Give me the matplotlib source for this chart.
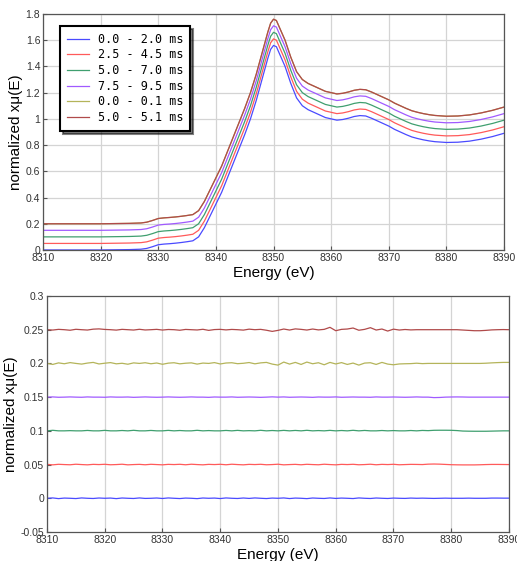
import matplotlib
matplotlib.use("Agg")
import matplotlib.pyplot as plt
from matplotlib.ticker import FuncFormatter, MultipleLocator
import numpy as np

# normalized XANES spectrum (first curve, 0.0 - 2.0 ms)
energy_top = [8310, 8315, 8320, 8325, 8327, 8328, 8329, 8330, 8331, 8332, 8333, 8334, 8335,
              8336, 8337, 8338, 8339, 8340, 8341, 8342, 8343, 8344, 8345, 8346, 8347, 8348,
              8349, 8349.5, 8350, 8350.5, 8351, 8352, 8353, 8354, 8355, 8356, 8357, 8358,
              8359, 8360, 8361, 8362, 8363, 8364, 8365, 8366, 8367, 8368, 8369, 8370, 8371,
              8372, 8373, 8374, 8375, 8376, 8377, 8378, 8380, 8382, 8384, 8386, 8388, 8390]
mu_base = [0.0, 0.0, 0.0, 0.003, 0.006, 0.012, 0.025, 0.04, 0.045, 0.048, 0.052, 0.057, 0.063,
           0.07, 0.1, 0.17, 0.26, 0.35, 0.44, 0.55, 0.66, 0.77, 0.88, 1.0, 1.14, 1.3,
           1.46, 1.53, 1.56, 1.55, 1.5, 1.4, 1.27, 1.16, 1.1, 1.07, 1.05, 1.03,
           1.01, 1.0, 0.99, 0.995, 1.005, 1.018, 1.025, 1.022, 1.005, 0.985, 0.965, 0.945, 0.92,
           0.9, 0.88, 0.862, 0.85, 0.84, 0.832, 0.826, 0.82, 0.822, 0.83, 0.845, 0.865, 0.89]

labels = ["0.0 - 2.0 ms", "2.5 - 4.5 ms", "5.0 - 7.0 ms", "7.5 - 9.5 ms", "0.0 - 0.1 ms", "5.0 - 5.1 ms"]
colors = ["#4a4aff", "#ff5a5a", "#3f9f6f", "#a05aff", "#b4b45a", "#b04a4a"]
offsets_top = [0.0, 0.05, 0.10, 0.15, 0.20, 0.20]
offsets_bottom = [0.0, 0.05, 0.10, 0.15, 0.20, 0.25]

# residuals (x 1e-3), one value per eV from 8310 to 8390
energy_bottom = list(range(8310, 8391))
res_blue = [0, 0.5, -0.5, 0.3, 0, -0.4, 0.5, 0, -0.3, 0.4,
            0, 0.3, -0.5, 0.4, 0, -0.3, 0.5, -0.2, 0, 0.4,
            -0.3, 0.5, 0, -0.4, 0.3, 0, -0.5, 0.4, 0, 0.3,
            -0.4, 0.5, 0, -0.3, 0.4, -0.2, 0.5, 0, -0.4, 0.3,
            0, 0.5, -0.4, 0.3, 0, -0.5, 0.4, 0, -0.3, 0.5,
            -0.2, 0.3, 0, -0.4, 0.5, 0, -0.3, 0.4, 0, -0.3,
            0.3, 0, -0.2, 0.3, 0, 0.2, 0, -0.2, 0, 0.2,
            0, 0, 0, 0.2, 0, 0, 0, 0.3, 0.3, 0.2, 0.2]
res_red = [0.3, -0.4, 0.4, 0, -0.3, 0.5, 0, -0.4, 0.3, 0,
           0.4, -0.3, 0, 0.5, -0.4, 0, 0.3, -0.3, 0.4, 0,
           -0.4, 0.3, 0, 0.4, -0.3, 0.5, 0, -0.4, 0.3, 0,
           0.4, -0.3, 0.5, 0, -0.4, 0.3, 0, 0.4, -0.3, 0,
           0.5, -0.4, 0, 0.3, -0.3, 0.4, 0, -0.3, 0.5, 0,
           -0.4, 0.3, 0, 0.4, -0.3, 0, 0.5, -0.3, 0.3, 0,
           0.4, -0.3, 0, 0.3, 0.2, 0, 0.6, 0.8, 0.6, 0.2,
           -0.2, -0.4, -0.5, -0.5, -0.5, -0.3, 0, 0.2, 0.2, 0.1, 0]
res_green = [0, 0.8, 0, 0, 0.3, 0, 0, 0.6, 0, 0,
             0.7, 0, 0, 0.5, 0, 0.8, 0, 0, 0.6, 0,
             0, 0.7, 0, 0.5, 0, 0, 0.8, 0, 0.4, 0,
             0, 0.6, 0, 0.7, 0, 0.3, 0, 0.8, 0, 0.5,
             0, 0.7, 0, 0.6, 0, 0.8, 0, 0.4, 0, 0.7,
             0, 0.5, 0, 0.8, 0, 0.6, 0, 0, 0.5, 0,
             0.4, 0, 0, 0.5, 0, 0.6, 0.3, 0.8, 0.9, 0.9,
             0.8, 0.4, -0.3, -0.5, -0.6, -0.6, -0.6, -0.4, -0.2, 0, 0]
res_purple = [0, 0.3, -0.2, 0, 0.3, 0, -0.2, 0.3, 0, 0,
              -0.2, 0.3, 0, 0, 0.2, -0.3, 0, 0.3, 0, -0.2,
              0, 0.3, 0, -0.2, 0, 0.3, 0, 0, -0.3, 0.2,
              0, 0, 0.3, -0.2, 0, 0.2, 0, -0.3, 0, 0.4,
              0, 0.3, -0.2, 0, 0.2, 0, -0.3, 0.2, 0, 0,
              0.3, -0.2, 0, 0.2, 0, 0, -0.2, 0.3, 0, 0,
              0.2, 0, -0.2, 0, 0.3, 0, 0, -0.7, -0.5, 0,
              0.2, 0.3, 0.2, 0, 0, 0, 0, 0, 0, 0, 0]
res_olive = [0, -1.5, 0.8, -0.5, 1.2, 0, -1.0, 0.5, 1.5, -0.8,
             0.3, 1.2, -0.6, 0.2, -1.2, 0.8, 0, 1.0, -0.5, 0.6,
             -1.3, 0.4, 1.0, -0.6, 0.3, 0.8, -1.0, 0.5, 0, 1.2,
             -0.8, 0.6, 1.0, -0.4, 0.2, 1.3, -0.6, 0.8, 1.5, -1.0,
             -2.5, 2.0, -1.0, 1.5, -1.5, 2.0, -0.5, 1.0, -2.0, 1.5,
             -0.8, 1.2, -1.5, 0.5, -2.5, 0.5, 1.0, -1.5, 1.5, -1.0,
             -2.0, -0.8, -0.5, -0.3, 0.3, -0.3, 0, 0, 0, 0,
             0, 0, 0, 0, 0, 0, 0.3, 0.8, 1.2, 1.5, 1.5]
res_brown = [0, -0.5, 0.5, 0, -0.8, 0.6, 0, -0.5, 0.8, 1.2,
             0.4, 0, -0.6, 0.5, 0, -0.5, 0.6, -0.4, 0, 0.5,
             -0.5, 0.3, 0, -0.8, 0.4, 0, -0.4, 0.6, -1.0, 0.2,
             0.5, -0.3, 0.4, 0, -0.6, 0.8, 0, 0.5, -0.8, -2.5,
             -1.0, 1.0, -0.5, 1.2, 0.5, -0.5, 1.0, -0.3, 0.5, 3.5,
             -1.5, 0.5, 1.0, 2.5, -0.8, 0.5, 3.0, -0.5, 1.0, -2.0,
             0.8, -0.5, 0.3, -0.3, 0, 0, 0, 0, 0, 0,
             0, 0, -0.5, -1.0, -1.5, -1.5, -1.0, -0.3, 0, 0.2, 0]
residuals = [res_blue, res_red, res_green, res_purple, res_olive, res_brown]

tick_font = {"family": ["Liberation Sans Narrow", "Liberation Sans", "DejaVu Sans"], "size": 7.5}
label_font = {"family": ["Liberation Sans", "DejaVu Sans"], "size": 11}
fmt = FuncFormatter(lambda v, p: f"{v:g}")


def style_axes(ax):
    for s in ax.spines.values():
        s.set_color("#555555")
        s.set_linewidth(0.9)
    ax.tick_params(direction="in", length=3, width=0.8, color="#555555", pad=2,
                   labelsize=tick_font["size"], labelcolor="#333333")
    for lab in ax.get_xticklabels() + ax.get_yticklabels():
        lab.set_family(tick_font["family"])
    ax.set_xlabel("Energy (eV)", fontdict=label_font, labelpad=2)
    ax.set_ylabel("normalized x\u03bc(E)", fontdict=label_font, labelpad=2)


fig = plt.figure(figsize=(5.17, 5.61), dpi=100)
ax1 = fig.add_axes([0.0832, 0.5544, 0.8917, 0.4207])
ax2 = fig.add_axes([0.0909, 0.0517, 0.8936, 0.4207])

e_top = np.array(energy_top)
mu = np.array(mu_base)
for lab, col, off in zip(labels, colors, offsets_top):
    ax1.plot(e_top, mu + off, color=col, lw=0.9, label=lab)
ax1.set_xlim(8310, 8390)
ax1.set_ylim(0, 1.8)
ax1.xaxis.set_major_locator(MultipleLocator(10))
ax1.yaxis.set_major_locator(MultipleLocator(0.2))
ax1.yaxis.set_major_formatter(fmt)
ax1.grid(True, color="#d4d4d4", lw=0.9)
ax1.set_axisbelow(True)
style_axes(ax1)

leg = ax1.legend(loc="upper left", bbox_to_anchor=(0.037, 0.95), prop={"family": "DejaVu Sans Mono", "size": 8.5},
                 frameon=True, fancybox=False, shadow={"color": "k", "alpha": 0.5}, edgecolor="k",
                 handlelength=1.85, handletextpad=0.75, labelspacing=0.22, borderpad=0.6, borderaxespad=0)
leg.get_frame().set_linewidth(1.5)
leg.get_frame().set_alpha(1)

e_bot = np.array(energy_bottom)
for col, off, res in zip(colors, offsets_bottom, residuals):
    ax2.plot(e_bot, off + np.array(res) * 1e-3, color=col, lw=0.9)
ax2.set_xlim(8310, 8390)
ax2.set_ylim(-0.05, 0.3)
ax2.xaxis.set_major_locator(MultipleLocator(10))
ax2.yaxis.set_major_locator(MultipleLocator(0.05))
ax2.yaxis.set_major_formatter(fmt)
ax2.grid(True, axis="x", color="#d4d4d4", lw=0.9)
ax2.set_axisbelow(True)
style_axes(ax2)

fig.savefig("out.png", dpi=100)
